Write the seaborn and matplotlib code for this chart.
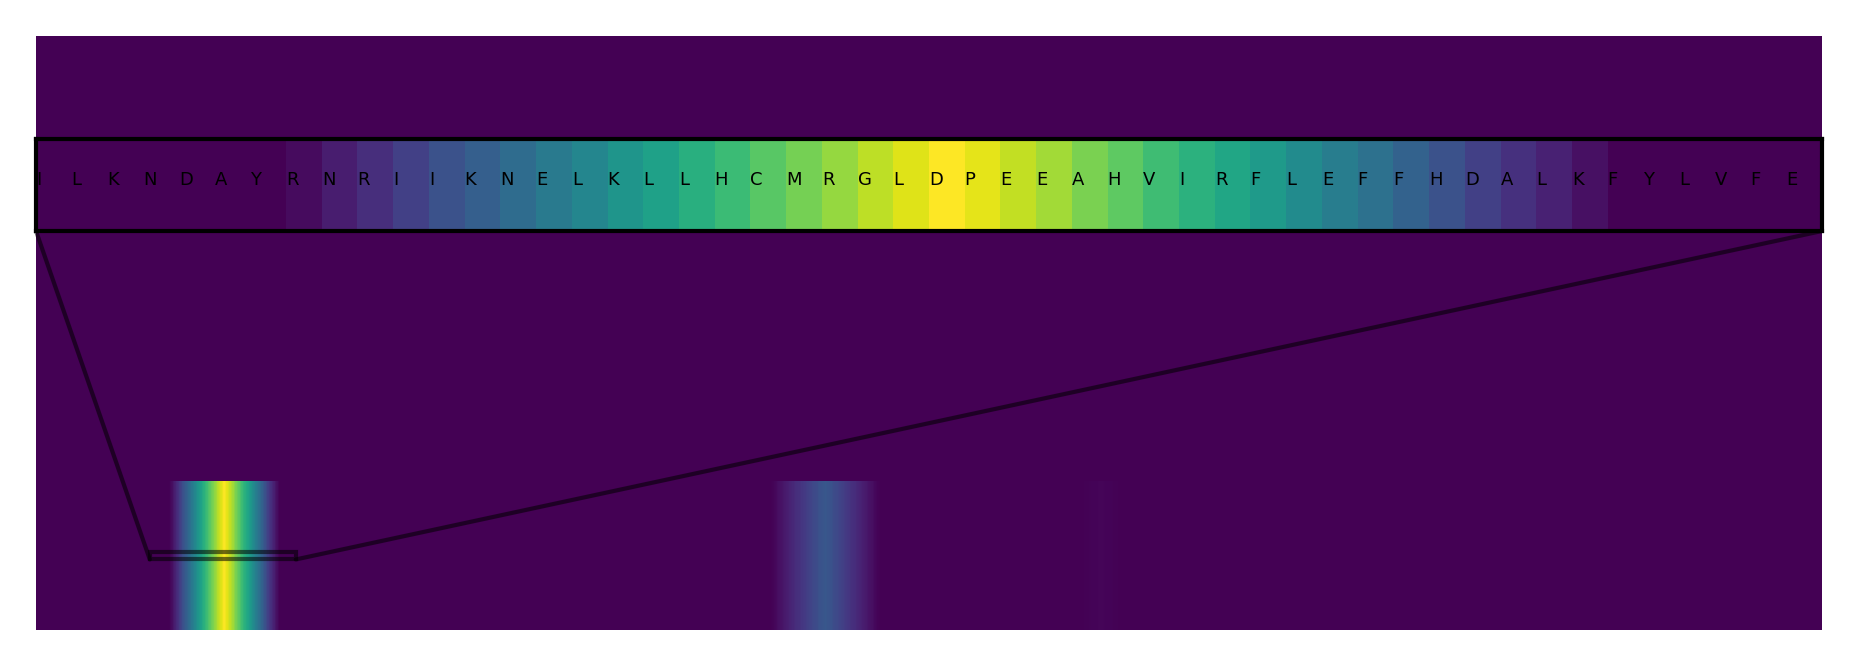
import numpy as np
import matplotlib
matplotlib.use("Agg")
import matplotlib.pyplot as plt
from matplotlib.patches import ConnectionPatch
import seaborn as sns

# residue scores along the sequence (most positions are zero)
seq_len = 612

# zoomed window
win_start = 39
win_letters = list("ILKNDAYRNRIIKNELKLLHCMRGLDPEEAHVIRFLEFFHDALKFYLVFE")
win_scores = [0, 0, 0, 0, 0, 0, 0, 0.03, 0.08, 0.13,
              0.19, 0.25, 0.30, 0.35, 0.41, 0.46, 0.52, 0.57, 0.63, 0.68,
              0.74, 0.79, 0.84, 0.90, 0.95, 1.00, 0.96, 0.91, 0.86, 0.80,
              0.75, 0.69, 0.64, 0.59, 0.54, 0.48, 0.42, 0.37, 0.31, 0.25,
              0.19, 0.14, 0.09, 0.04, 0, 0, 0, 0, 0, 0]

# second, weaker peak
peak2_start = 252
peak2_scores = [0.01, 0.02, 0.04, 0.05, 0.07, 0.08, 0.10, 0.11, 0.13, 0.14,
                0.16, 0.17, 0.19, 0.20, 0.22, 0.23, 0.25, 0.26, 0.27, 0.26,
                0.25, 0.23, 0.22, 0.20, 0.19, 0.17, 0.16, 0.14, 0.13, 0.11,
                0.10, 0.08, 0.07, 0.05, 0.04, 0.02, 0.01]

# barely visible bump
peak3_start = 358
peak3_scores = [0.002, 0.004, 0.006, 0.008, 0.010, 0.011, 0.012, 0.012,
                0.011, 0.010, 0.008, 0.006, 0.004, 0.002]

scores = np.zeros(seq_len)
scores[win_start:win_start + len(win_scores)] = win_scores
scores[peak2_start:peak2_start + len(peak2_scores)] = peak2_scores
scores[peak3_start:peak3_start + len(peak3_scores)] = peak3_scores

sns.set_theme(style="white")
plt.rcParams['font.family'] = ['DejaVu Sans']

cmap = plt.get_cmap("viridis")
fig = plt.figure(figsize=(18.57, 6.67), dpi=100)
ax = fig.add_axes([36 / 1857, 37 / 667, 1786 / 1857, 594 / 667])

grid = np.repeat(scores[None, :], 50, axis=0)
ax.imshow(grid, extent=(0, seq_len, 0, 1), aspect="auto", cmap=cmap,
          vmin=0, vmax=1, origin="lower")
ax.set_xlim(0, seq_len)
ax.set_ylim(0, 4)
ax.set_facecolor(cmap(0.0))
for s in ax.spines.values():
    s.set_visible(False)
ax.set_xticks([])
ax.set_yticks([])

# inset with residue letters
ax_in = ax.inset_axes([0, 399 / 594, 1, 92 / 594])
sns.heatmap(scores[None, :], ax=ax_in, cmap=cmap, vmin=0, vmax=1,
            cbar=False, xticklabels=False, yticklabels=False)
x0, x1 = win_start, win_start + len(win_letters)
y0, y1 = 0.475, 0.525
ax_in.set_xlim(x0, x1)
ax_in.set_ylim(y0, y1)
for i, letter in enumerate(win_letters):
    ax_in.text(win_start + i, 0.5, letter, ha="left", va="baseline",
               fontsize=13, color="black")
for s in ax_in.spines.values():
    s.set_visible(True)
    s.set_color("black")
    s.set_linewidth(3)
ax_in.set_xticks([])
ax_in.set_yticks([])

# zoom box + the two lower connectors
line_kw = dict(color="black", alpha=0.55, linewidth=3)
ax.indicate_inset([x0, y0, x1 - x0, y1 - y0], edgecolor="black",
                  alpha=0.55, linewidth=3)
for corner, xb in [((0, 0), x0), ((1, 0), x1)]:
    con = ConnectionPatch(xyA=corner, coordsA=ax_in.transAxes,
                          xyB=(xb, y0), coordsB=ax.transData,
                          arrowstyle="-", **line_kw)
    ax.add_artist(con)

fig.savefig("out.png", dpi=100)
